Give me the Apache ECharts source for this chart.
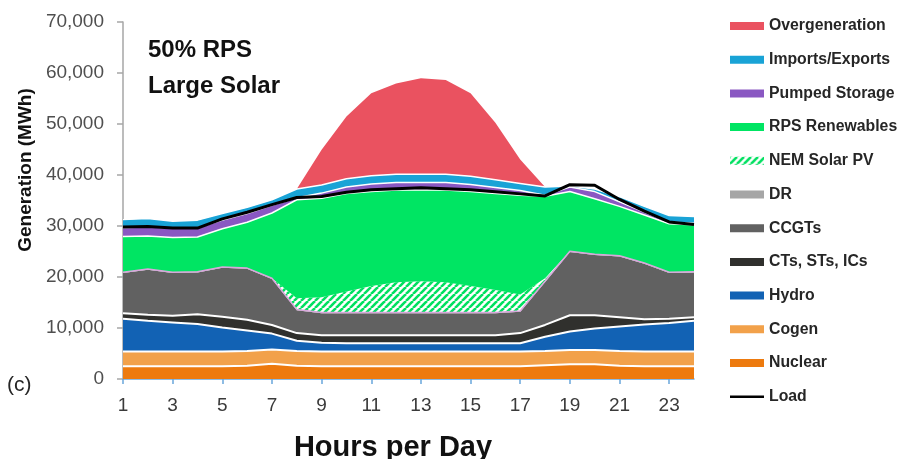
<!DOCTYPE html>
<html>
<head>
<meta charset="utf-8">
<title>50% RPS Large Solar</title>
<script src="https://cdn.jsdelivr.net/npm/echarts@6/dist/echarts.min.js"></script>
<style>
  html, body { margin: 0; padding: 0; background: #fff; }
  #chart { width: 898px; height: 459px; }
</style>
</head>
<body>
<div id="chart"></div>
<script>
// Hour of day (x categories)
const hours = ['1','2','3','4','5','6','7','8','9','10','11','12','13','14','15','16','17','18','19','20','21','22','23','24'];

// Generation by resource (MWh), stacked bottom-up
const nuclear  = [2500,2500,2500,2500,2500,2600,3000,2600,2500,2500,2500,2500,2500,2500,2500,2500,2500,2700,2900,2900,2600,2500,2500,2500];
const cogen    = [2900,2900,2900,2900,2900,2900,2800,2900,2900,2900,2900,2900,2900,2900,2900,2900,2900,2800,2800,2800,2900,2900,2900,2900];
const hydro    = [6400,6000,5700,5400,4700,4000,3100,2000,1700,1600,1600,1600,1600,1600,1600,1600,1600,2800,3600,4200,4800,5300,5600,6000];
const cts      = [1100,1200,1300,1900,2100,2100,1700,1500,1500,1600,1600,1600,1600,1600,1600,1600,2000,2300,3200,2600,1800,1000,800,700];
const ccgts    = [7900,8800,8400,8200,9600,10000,9000,4500,4300,4300,4300,4300,4300,4300,4300,4300,4200,8400,12400,11800,11900,10900,9000,8800];
const dr       = [150,150,150,150,150,150,150,150,150,150,150,150,150,150,150,150,150,150,150,150,150,150,150,150];
const nemSolar = [0,0,0,0,0,0,0,2200,3000,4100,5200,5900,6100,5900,5200,4400,3200,600,0,0,0,0,0,0];
const rps      = [7000,6500,6800,6800,7500,9000,12800,19300,19400,19200,18500,18100,17900,18100,18500,18900,19500,16100,11700,10900,9700,9400,9500,9200];
const pumped   = [1700,1800,1800,1800,1700,1700,1500,400,1000,1300,1500,1500,1500,1500,1400,1200,900,200,900,1400,900,600,300,300];
const imports  = [1600,1600,1400,1500,1300,1200,1100,1700,1600,1600,1600,1600,1600,1600,1600,1500,1400,1600,200,500,1000,1100,1300,1300];
const overgen  = [0,0,0,0,0,0,0,0,6900,12200,16200,17800,18800,18500,16300,11200,4700,0,0,0,0,0,0,0];
const load     = [29800,29900,29600,29600,31400,32700,34200,35600,35800,36600,37100,37300,37500,37300,37100,36700,36300,35900,38100,38000,35200,32900,30800,30300];

// Y-axis range
const yMin = 0, yMax = 70000, yStep = 10000;

// Diagonal green hatch used for the NEM Solar PV band
function hatchPattern() {
  const c = document.createElement('canvas');
  c.width = 7; c.height = 7;
  const g = c.getContext('2d');
  g.fillStyle = '#ffffff';
  g.fillRect(0, 0, 7, 7);
  g.strokeStyle = '#00e060';
  g.lineWidth = 2.6;
  for (const o of [-7, 0, 7]) {
    g.beginPath(); g.moveTo(o, 7); g.lineTo(o + 7, 0); g.stroke();
  }
  return { image: c, repeat: 'repeat' };
}
const hatch = hatchPattern();

const colors = {
  'Overgeneration': '#ea5260',
  'Imports/Exports': '#19a3d6',
  'Pumped Storage': '#8a58c2',
  'RPS Renewables': '#00e563',
  'NEM Solar PV': hatch,
  'DR': '#a6a6a6',
  'CCGTs': '#616161',
  'CTs, STs, ICs': '#30302d',
  'Hydro': '#1262b4',
  'Cogen': '#f2a14a',
  'Nuclear': '#ed7a0e'
};

function area(name, data, line) {
  return {
    name: name,
    type: 'line',
    stack: 'gen',
    data: data,
    showSymbol: false,
    symbol: 'none',
    smooth: false,
    itemStyle: { color: typeof colors[name] === 'string' ? colors[name] : '#00e060' },
    lineStyle: line,
    areaStyle: { color: colors[name], opacity: 1 },
    emphasis: { disabled: true }
  };
}

const white = { color: '#ffffff', width: 2 };
const series = [
  area('Nuclear', nuclear, white),
  area('Cogen', cogen, white),
  area('Hydro', hydro, white),
  area('CTs, STs, ICs', cts, white),
  area('CCGTs', ccgts, { width: 0, opacity: 0 }),
  area('DR', dr, { color: '#d9a6dc', width: 1.5 }),
  area('NEM Solar PV', nemSolar, { width: 0, opacity: 0 }),
  area('RPS Renewables', rps, { color: '#ffffff', width: 1.5 }),
  area('Pumped Storage', pumped, { color: '#ffffff', width: 1.5 }),
  area('Imports/Exports', imports, { color: '#ffffff', width: 1.5 }),
  area('Overgeneration', overgen, { width: 0, opacity: 0 }),
  {
    name: 'Load',
    type: 'line',
    data: load,
    showSymbol: false,
    symbol: 'none',
    z: 5,
    itemStyle: { color: '#000000' },
    lineStyle: { color: '#000000', width: 3 },
    emphasis: { disabled: true }
  }
];

const legendOrder = ['Overgeneration','Imports/Exports','Pumped Storage','RPS Renewables','NEM Solar PV','DR','CCGTs','CTs, STs, ICs','Hydro','Cogen','Nuclear'];
const legendData = legendOrder.map(n => ({
  name: n,
  icon: 'rect',
  itemStyle: { color: colors[n], borderWidth: 0 }
}));
legendData.push({
  name: 'Load',
  icon: 'path://M0,0 H40 V3 H0 Z',
  itemStyle: { color: '#000000', borderWidth: 0 }
});

const chart = echarts.init(document.getElementById('chart'), null, { renderer: 'canvas' });
chart.setOption({
  animation: false,
  backgroundColor: '#ffffff',
  grid: { left: 123, right: 204, top: 22, bottom: 80, containLabel: false },
  xAxis: {
    type: 'category',
    data: hours,
    boundaryGap: false,
    axisLine: { show: true, lineStyle: { color: '#6aa6dc', width: 1.5 } },
    axisTick: { show: true, interval: 1, length: 5, lineStyle: { color: '#6aa6dc', width: 1.5 } },
    axisLabel: { interval: 1, margin: 17, fontFamily: 'Liberation Sans, Arial', fontSize: 19, color: '#3a3a3a' },
    splitLine: { show: false }
  },
  yAxis: {
    type: 'value',
    min: yMin, max: yMax, interval: yStep,
    axisLine: { show: true, lineStyle: { color: '#a6a6a6', width: 1.5 } },
    axisTick: { show: true, length: 6, lineStyle: { color: '#a6a6a6', width: 1.5 } },
    axisLabel: {
      margin: 19, fontFamily: 'Liberation Sans, Arial', fontSize: 19, color: '#4f4f4f',
      formatter: v => v.toLocaleString('en-US')
    },
    splitLine: { show: false }
  },
  legend: {
    orient: 'vertical',
    left: 725,
    top: 13,
    itemWidth: 34,
    itemHeight: 8,
    itemGap: 17.7,
    selectedMode: false,
    data: legendData,
    textStyle: { fontFamily: 'Liberation Sans, Arial', fontWeight: 'bold', fontSize: 15.8, lineHeight: 16, color: '#262626' }
  },
  graphic: [
    { type: 'text', left: 148, top: 38, style: { text: '50% RPS', font: '600 24px "Liberation Sans", Arial', fill: '#111111' } },
    { type: 'text', left: 148, top: 74, style: { text: 'Large Solar', font: '600 24px "Liberation Sans", Arial', fill: '#111111' } },
    { type: 'text', left: 7, top: 375, style: { text: '(c)', font: '21px "Liberation Sans", Arial', fill: '#262626' } },
    { type: 'text', x: 26, y: 170, rotation: Math.PI / 2,
      style: { text: 'Generation (MWh)', font: 'bold 19px "Liberation Sans", Arial', fill: '#111111', align: 'center', verticalAlign: 'middle' } },
    { type: 'text', x: 393, y: 448,
      style: { text: 'Hours per Day', font: 'bold 29px "Liberation Sans", Arial', fill: '#111111', align: 'center', verticalAlign: 'middle' } }
  ],
  series: series
});
</script>
</body>
</html>
